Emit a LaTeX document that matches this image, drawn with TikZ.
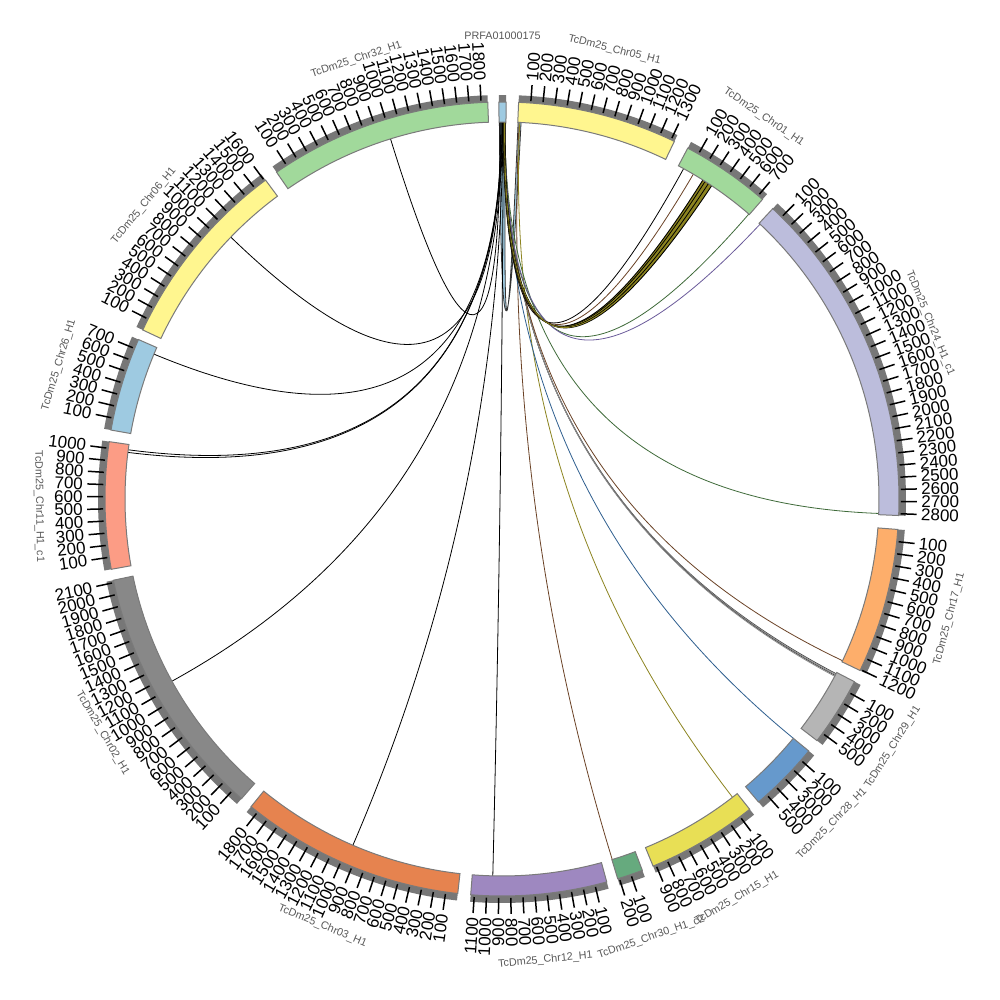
\documentclass[tikz,border=0pt]{standalone}
\usepackage{fontspec}
\setmainfont{Liberation Sans}
\definecolor{cPRFA}{HTML}{9ECAE1}
\definecolor{cY}{HTML}{FFF68F}
\definecolor{cG}{HTML}{A1D99B}
\definecolor{cLav}{HTML}{BCBDDC}
\definecolor{cOr}{HTML}{FDAE6B}
\definecolor{cGr}{HTML}{B5B5B5}
\definecolor{cBl}{HTML}{6699CC}
\definecolor{cYtwo}{HTML}{E8DF55}
\definecolor{cGtwo}{HTML}{66AA7E}
\definecolor{cPu}{HTML}{9E88C0}
\definecolor{cOrtwo}{HTML}{E6834F}
\definecolor{cGrtwo}{HTML}{888888}
\definecolor{cSal}{HTML}{FC9C85}
\definecolor{bandgrey}{HTML}{777777}
\definecolor{segedge}{HTML}{7A7A7A}
\definecolor{lbrown}{HTML}{6B4226}
\definecolor{lolive}{HTML}{8C8420}
\definecolor{lblue}{HTML}{2F5F8F}
\definecolor{lgreen}{HTML}{3F6B3A}
\definecolor{lpurple}{HTML}{6A5A9A}
\tikzset{
  tickmark/.style={line width=0.75pt,black},
  ticklab/.style={font=\fontsize{8.5}{8.5}\selectfont,inner sep=0pt,text=black},
  chrlab/.style={font=\fontsize{5.4}{5.4}\selectfont,inner sep=0pt,text=black!65},
  linkline/.style={line width=0.4pt},
  segshape/.style={draw=segedge,line width=0.5pt},
}
\newcommand\upd{57}
% #1 id, #2 start (deg clockwise from top), #3 length, #4 colour, #5 label, #6 ticks
\newcommand{\chrom}[6]{%
  \pgfmathsetmacro\ps{#2}%
  \pgfmathsetmacro\pe{#2+#3/\upd}%
  \pgfmathsetmacro\ts{90-\ps}%
  \pgfmathsetmacro\te{90-\pe}%
  \fill[bandgrey] (\ts:396) arc[start angle=\ts,end angle=\te,radius=396]
     -- (\te:404) arc[start angle=\te,end angle=\ts,radius=404] -- cycle;
  \filldraw[segshape,fill=#4] (\ts:377) arc[start angle=\ts,end angle=\te,radius=377]
     -- (\te:397) arc[start angle=\te,end angle=\ts,radius=397] -- cycle;
  \ifnum#6>0
  \foreach \k in {1,...,#6}{%
    \pgfmathsetmacro\pt{\ps+\k*100/\upd}%
    \pgfmathsetmacro\tt{90-\pt}%
    \draw[tickmark] (\tt:399) -- (\tt:415);
    \ifdim\pt pt<180pt
      \node[ticklab,anchor=west,rotate=\tt] (t#1-\k) at (\tt:419) {\k00};
    \else
      \node[ticklab,anchor=east,rotate=\tt+180] (t#1-\k) at (\tt:419) {\k00};
    \fi
  }%
  \fi
  \pgfmathsetmacro\pmid{(\ps+\pe)/2}%
  \ifdim\pmid pt<90pt \pgfmathsetmacro\lrot{-\pmid}%
  \else\ifdim\pmid pt>270pt \pgfmathsetmacro\lrot{-\pmid}%
  \else \pgfmathsetmacro\lrot{180-\pmid}\fi\fi
  \pgfmathsetmacro\tm{90-\pmid}%
  \node[chrlab,rotate=\lrot] (l#1) at (\tm:463) {#5};
}
% link: #1 colour, #2 source, #3 target
\newcommand{\lnk}[3]{%
  \pgfmathsetmacro\la{90-#2}%
  \pgfmathsetmacro\lb{90-#3}%
  \draw[linkline,#1] (\la:377) .. controls (\la:125.67) and (\lb:125.67) .. (\lb:377);
}
\begin{document}
\begin{tikzpicture}[x=0.5pt,y=0.5pt]
\useasboundingbox (-502,-501) rectangle (498,499);
\fill[white] (-502,-501) rectangle (498,499);
% ribbon PRFA <-> Chr05 start
\coordinate (rA) at (90.4:377);
\coordinate (rB) at (87.1:377);
\filldraw[fill=cPRFA,draw=black!80,line width=0.4pt]
  (rA) .. controls (90.4:125.67) and (87.1:125.67) .. (rB)
  arc[start angle=87.1,end angle=87.55,radius=377]
  .. controls (87.55:125.67) and (89.45:125.67) .. (89.45:377)
  arc[start angle=89.45,end angle=90.4,radius=377] -- cycle;
% links to the left half
\lnk{black}{-0.3}{342.8}
\lnk{black}{-0.2}{314.0}
\lnk{black}{-0.1}{292.6}
\lnk{black}{0.0}{277.5}
\lnk{black}{0.05}{277.1}
\lnk{black}{0.1}{241.1}
\lnk{black}{0.15}{203.3}
\lnk{black}{0.2}{181.4}
% links to the right half
\lnk{lbrown}{2.6}{163.0}
\lnk{lolive}{2.7}{142.3}
\lnk{lblue}{0.3}{129.4}
\lnk{black!70}{0.35}{117.6}
\lnk{black!45}{0.38}{117.75}
\lnk{black!70}{0.41}{117.9}
\lnk{black!45}{0.44}{118.05}
\lnk{lbrown}{0.4}{115.4}
\lnk{lgreen}{0.45}{92.2}
\lnk{lgreen}{0.5}{40.9}
\lnk{lpurple}{0.5}{43.2}
\lnk{black}{0.3}{28.8}
\lnk{lbrown}{0.35}{30.5}
% Chr01 bundle
\filldraw[fill=lolive,draw=black,line width=0.45pt]
  (89.8:377) .. controls (89.8:125.67) and (57.8:125.67) .. (57.8:377)
  arc[start angle=57.8,end angle=56.2,radius=377]
  .. controls (56.2:125.67) and (89.5:125.67) .. (89.5:377) -- cycle;
\lnk{black}{0.25}{32.6}
\lnk{lolive}{0.3}{32.9}
\lnk{black}{0.35}{33.2}
\lnk{lolive}{0.4}{33.5}
% chromosomes
\chrom{prfa}{-0.45}{60}{cPRFA}{PRFA01000175}{0}
\chrom{c05}{2.4}{1330}{cY}{TcDm25\_Chr05\_H1}{13}
\chrom{c01}{27.9}{747}{cG}{TcDm25\_Chr01\_H1}{7}
\chrom{c24}{43.0}{2815}{cLav}{TcDm25\_Chr24\_H1\_c1}{28}
\chrom{c17}{94.4}{1208}{cOr}{TcDm25\_Chr17\_H1}{12}
\chrom{c29}{117.4}{575}{cGr}{TcDm25\_Chr29\_H1}{5}
\chrom{c28}{129.4}{590}{cBl}{TcDm25\_Chr28\_H1}{5}
\chrom{c15}{141.4}{925}{cYtwo}{TcDm25\_Chr15\_H1}{9}
\chrom{c30}{159.3}{214}{cGtwo}{TcDm25\_Chr30\_H1\_c2}{2}
\chrom{c12}{164.7}{1130}{cPu}{TcDm25\_Chr12\_H1}{11}
\chrom{c03}{186.4}{1870}{cOrtwo}{TcDm25\_Chr03\_H1}{18}
\chrom{c02}{221.0}{2120}{cGrtwo}{TcDm25\_Chr02\_H1}{21}
\chrom{c11}{259.8}{1055}{cSal}{TcDm25\_Chr11\_H1\_c1}{10}
\chrom{c26}{280.0}{780}{cPRFA}{TcDm25\_Chr26\_H1}{7}
\chrom{c06}{295.2}{1610}{cY}{TcDm25\_Chr06\_H1}{16}
\chrom{c32}{325.4}{1855}{cG}{TcDm25\_Chr32\_H1}{18}
\end{tikzpicture}
\end{document}
